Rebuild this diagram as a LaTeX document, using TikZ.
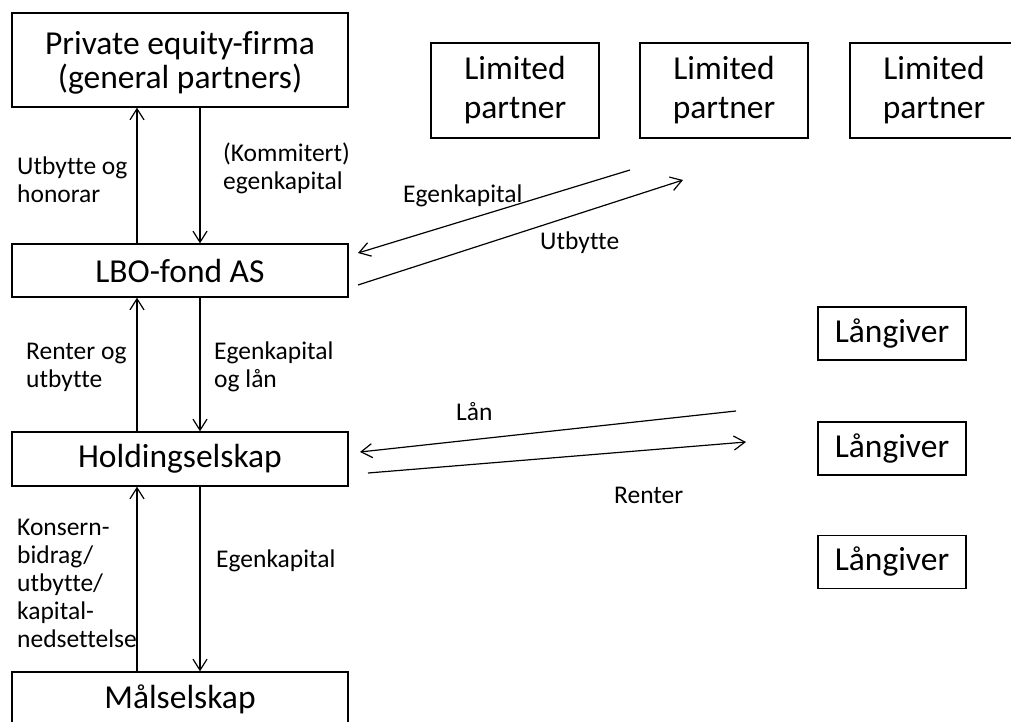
\documentclass[tikz,border=0pt]{standalone}
\usepackage{fontspec}
\setmainfont{Carlito}[Ligatures=NoCommon]
\usetikzlibrary{arrows.meta}
\begin{document}
\begin{tikzpicture}[x=1bp,y=-1bp,
  box/.style={draw,line width=1.4bp,rectangle,inner sep=0pt,align=center,
    font=\fontsize{33.5bp}{34bp}\selectfont},
  lpbox/.style={box,minimum width=168bp,minimum height=95bp,
    font=\fontsize{33.5bp}{39bp}\selectfont},
  lgbox/.style={box,minimum width=148bp,minimum height=53bp},
  lbl/.style={inner sep=0pt,anchor=west,align=left,
    font=\fontsize{25.5bp}{28bp}\selectfont},
  arr/.style={line width=1.2bp,-{Straight Barb[length=11bp,width=14bp,line width=1.2bp]}}]
\clip (0,0) rectangle (1011,722);
\fill[white] (0,0) rectangle (1011,722);
% boxes
\node[box,minimum width=336bp,minimum height=94bp] (pe) at (180,60) {};
\node[inner sep=0pt,align=center,font=\fontsize{33.5bp}{34bp}\selectfont] (petext) at (180,63) {Private equity-firma\\(general partners)};
\node[lpbox] (lp1) at (515,90.5) {Limited\\partner};
\node[lpbox] (lp2) at (724,90.5) {Limited\\partner};
\node[lpbox] (lp3) at (934,90.5) {Limited\\partner};
\node[box,minimum width=336bp,minimum height=53bp] (lbo) at (180,270.5) {LBO-fond AS};
\node[box,minimum width=336bp,minimum height=54bp] (hold) at (180,459) {Holdingselskap};
\node[box,minimum width=336bp,minimum height=70bp] (mal) at (180,707) {};
\node[inner sep=0pt,font=\fontsize{33.5bp}{34bp}\selectfont] (maltext) at (180,699) {Målselskap};
\node[lgbox] (lg1) at (892,333.5) {Långiver};
\node[lgbox] (lg2) at (892,448.5) {Långiver};
\node[lgbox] (lg3) at (892,562) {Långiver};
% column coordinates
\coordinate (ux) at (137,0);
\coordinate (dx) at (200,0);
% vertical arrows
\draw[arr] (lbo.north -| ux) -- (pe.south -| ux);
\draw[arr] (pe.south -| dx) -- (lbo.north -| dx);
\draw[arr] (hold.north -| ux) -- (lbo.south -| ux);
\draw[arr] (lbo.south -| dx) -- (hold.north -| dx);
\draw[arr] (mal.north -| ux) -- (hold.south -| ux);
\draw[arr] (hold.south -| dx) -- (mal.north -| dx);
% diagonal arrows
\coordinate (e1s) at (630,170);
\coordinate (e1e) at (358,253);
\coordinate (u1s) at (358,285);
\coordinate (u1e) at (683,180);
\draw[arr] (e1s) -- (e1e);
\draw[arr] (u1s) -- (u1e);
\coordinate (l1s) at (736,411);
\coordinate (l1e) at (360,452);
\coordinate (r1s) at (368,473);
\coordinate (r1e) at (746,442);
\draw[arr] (l1s) -- (l1e);
\draw[arr] (r1s) -- (r1e);
% labels
\node[lbl] (t1) at (17,180) {Utbytte og\\honorar};
\node[lbl] (t2) at (223,168) {(Kommitert)\\egenkapital};
\node[lbl] (t3) at (26,367) {Renter og\\utbytte};
\node[lbl] (t4) at (214,367) {Egenkapital\\og lån};
\node[lbl] (t5) at (17,583) {Konsern-\\bidrag/\\utbytte/\\kapital-\\nedsettelse};
\node[lbl] (t6) at (216,561) {Egenkapital};
\node[lbl] (t7) at (403,196) {Egenkapital};
\node[lbl] (t8) at (540,243) {Utbytte};
\node[lbl] (t9) at (456,412) {Lån};
\node[lbl] (t10) at (614,495) {Renter};
\end{tikzpicture}
\end{document}
